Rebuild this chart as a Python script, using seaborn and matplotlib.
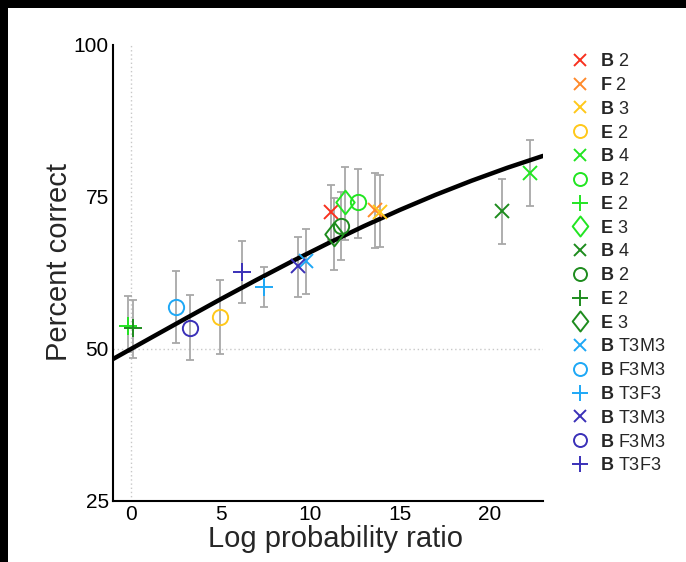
import matplotlib
matplotlib.use("Agg")
import matplotlib.pyplot as plt
import numpy as np
import pandas as pd
import seaborn as sns
from matplotlib.patches import Rectangle
from matplotlib.path import Path

# condition labels: bold letter + plain suffix
LETTERS = ["B", "F", "B", "E", "B", "B", "E", "E", "B", "B", "E", "E",
           "B", "B", "B", "B", "B", "B"]
SUFFIXES = ["2", "2", "3", "2", "4", "2", "2", "3", "4", "2", "2", "3",
            "T3M3", "F3M3", "T3F3", "T3M3", "F3M3", "T3F3"]
MARKERS = ["x", "x", "x", "o", "x", "o", "+", "d", "x", "o", "+", "d",
           "x", "o", "+", "x", "o", "+"]
COLORS = ["#f8311f", "#ff8a2b", "#ffc81a", "#ffc81a",
          "#22e522", "#22e522", "#22e522", "#22e522",
          "#1e8c1e", "#1e8c1e", "#1e8c1e", "#1e8c1e",
          "#1ea8f6", "#1ea8f6", "#1ea8f6",
          "#3a30b8", "#3a30b8", "#3a30b8"]

# measured points (log probability ratio, percent correct) with error bar ends
LOG_RATIO = [11.15, 13.6, 13.9, 5.0, 22.3, 12.7, -0.15, 11.95, 20.7, 11.7, 0.1, 11.35,
             9.75, 2.5, 7.45, 9.35, 3.3, 6.2]
PCT = [72.5, 72.8, 72.6, 55.2, 78.9, 74.1, 53.8, 74.1, 72.7, 70.2, 53.4, 68.9,
       64.4, 56.9, 60.2, 63.6, 53.4, 62.6]
PCT_LO = [68.0, 66.6, 66.7, 49.1, 73.5, 68.3, 49.5, 68.0, 67.3, 64.7, 48.5, 63.0,
          59.0, 51.0, 56.9, 58.6, 48.2, 57.6]
PCT_HI = [76.9, 79.0, 78.7, 61.3, 84.3, 79.6, 58.7, 79.9, 78.0, 75.8, 58.1, 74.9,
          69.7, 62.9, 63.5, 68.4, 58.8, 67.8]

# fitted curve
CURVE_X = [-1, 1, 3, 5, 7, 9, 11, 13, 15, 17, 19, 21, 23]
CURVE_Y = [48.35, 51.65, 54.93, 58.18, 61.35, 64.43, 67.38, 70.20, 72.86,
           75.35, 77.66, 79.80, 81.76]

# matlab-style diamond, a bit taller than wide
DIAMOND = Path([(0, 1), (0.78, 0), (0, -1), (-0.78, 0), (0, 1)],
               [Path.MOVETO, Path.LINETO, Path.LINETO, Path.LINETO, Path.CLOSEPOLY])

sns.set_style("white")
plt.rcParams["font.family"] = ["Liberation Sans", "DejaVu Sans"]
plt.rcParams["mathtext.fontset"] = "custom"
plt.rcParams["mathtext.rm"] = "Liberation Sans"
plt.rcParams["mathtext.bf"] = "Liberation Sans:bold"

fig = plt.figure(figsize=(6.86, 5.62), dpi=100)
fig.patch.set_facecolor("black")
fig.patches.append(Rectangle((8 / 686, 0), 1, 1 - 8 / 562, transform=fig.transFigure,
                             facecolor="white", edgecolor="none", zorder=-10))
ax = fig.add_axes([113 / 686, 1 - 501 / 562, 430 / 686, 456 / 562])
ax.set_facecolor("none")

# reference lines
ax.axvline(0, color="#c8c8c8", linestyle=(0, (1, 2)), linewidth=1.0, zorder=0)
ax.axhline(50, color="#c8c8c8", linestyle=(0, (1, 2)), linewidth=1.0, zorder=0)

df = pd.DataFrame({"x": LOG_RATIO, "y": PCT, "lo": PCT_LO, "hi": PCT_HI})
ax.errorbar(df["x"], df["y"], yerr=[df["y"] - df["lo"], df["hi"] - df["y"]],
            fmt="none", ecolor="#a8a8a8", elinewidth=1.3, capsize=3, capthick=1.3,
            zorder=1)

curve = pd.DataFrame({"x": CURVE_X, "y": CURVE_Y})
sns.lineplot(data=curve, x="x", y="y", color="black", linewidth=3.2, ax=ax, zorder=2)

for i in range(len(LOG_RATIO)):
    m = DIAMOND if MARKERS[i] == "d" else MARKERS[i]
    size = {"x": 10.5, "+": 13, "o": 11, "d": 17}[MARKERS[i]]
    ax.plot(LOG_RATIO[i], PCT[i], linestyle="none", marker=m, markersize=size,
            markeredgewidth=1.4, markerfacecolor="none", markeredgecolor=COLORS[i],
            color=COLORS[i], zorder=3,
            label=rf"$\mathbf{{{LETTERS[i]}}}$ {SUFFIXES[i]}")

ax.set_xlim(-1, 23)
ax.set_ylim(25, 100)
ax.set_xticks([0, 5, 10, 15, 20])
ax.set_yticks([25, 50, 75, 100])
ax.tick_params(direction="in", length=5, width=1.2, labelsize=15, pad=3, colors="black")
ax.set_xlabel("Log probability ratio", fontsize=21)
ax.set_ylabel("Percent correct", fontsize=21)
ax.xaxis.set_label_coords(0.517, -0.053)
ax.yaxis.set_label_coords(-0.093, 0.525)
sns.despine(ax=ax)
for side in ["left", "bottom"]:
    ax.spines[side].set_linewidth(1.5)
    ax.spines[side].set_color("black")

fig.legend(*ax.get_legend_handles_labels(), loc="upper left",
           bbox_to_anchor=(564 / 686, 1 - 46 / 562), frameon=False,
           fontsize=13, handlelength=1.0, handletextpad=0.6, labelspacing=0.375,
           markerscale=0.85, borderaxespad=0)

fig.savefig("out.png", dpi=100, facecolor=fig.get_facecolor())
